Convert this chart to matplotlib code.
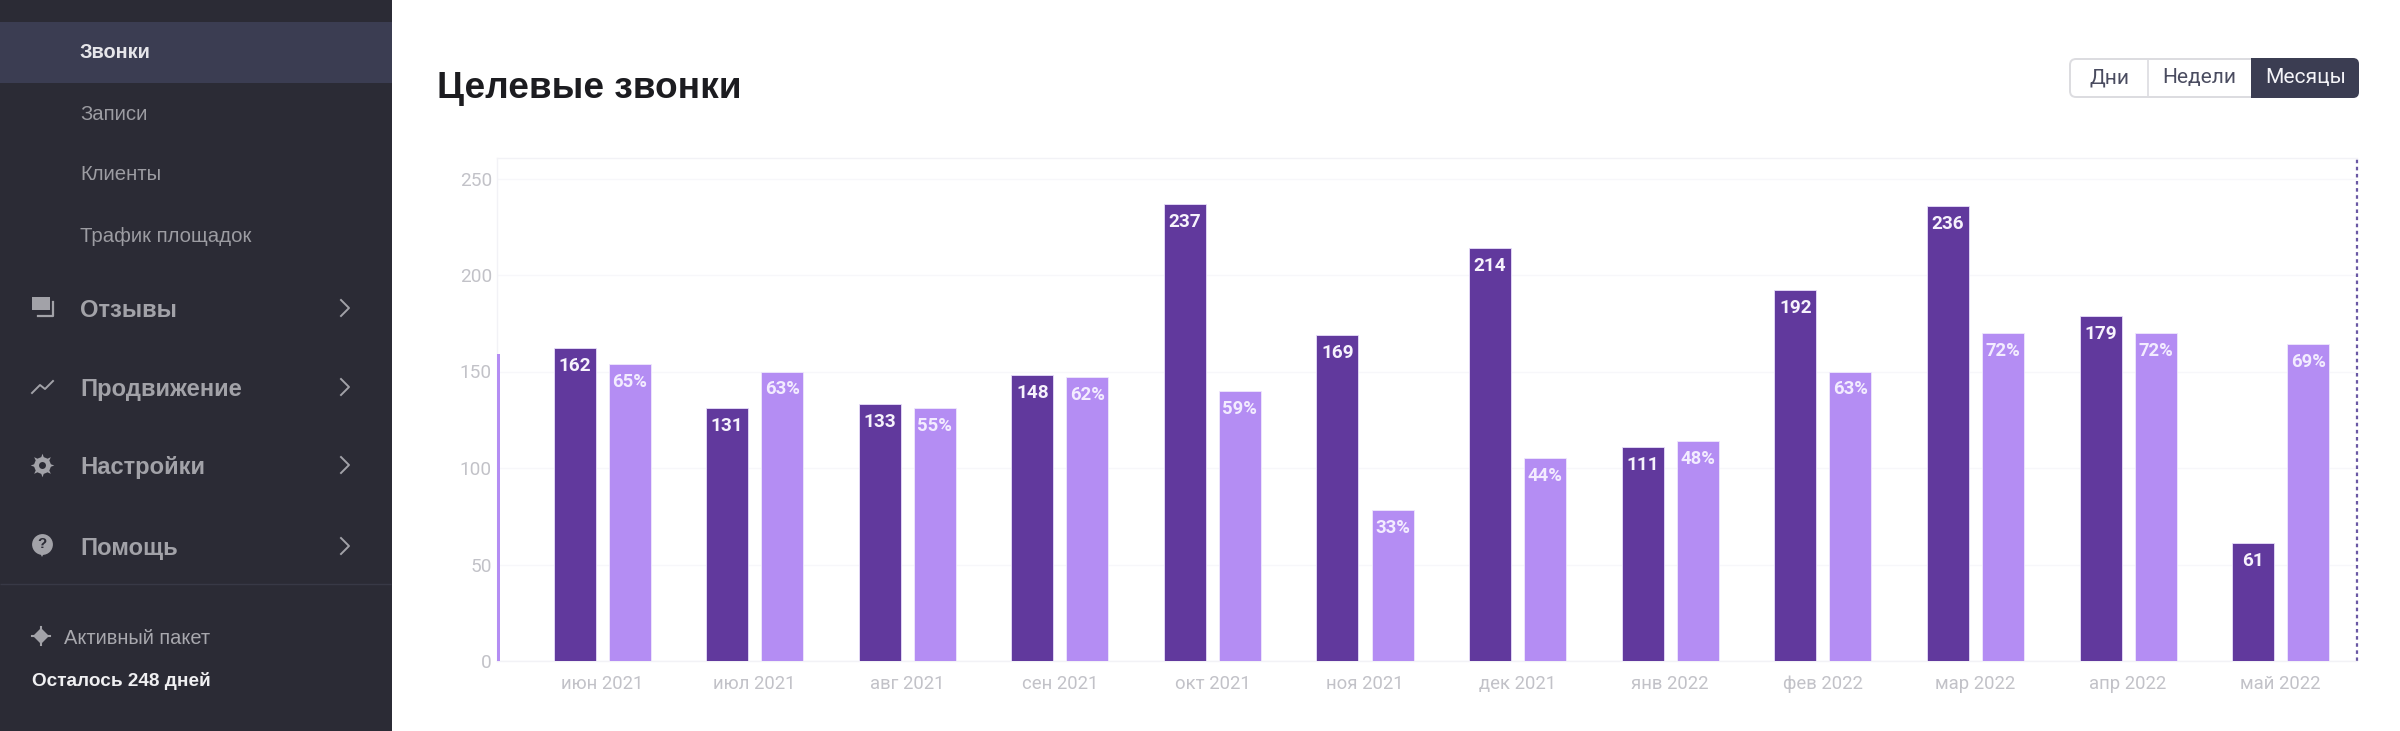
import matplotlib
matplotlib.use("Agg")
import matplotlib.pyplot as plt
from matplotlib.patches import Rectangle, FancyBboxPatch

months = ["июн 2021", "июл 2021", "авг 2021", "сен 2021", "окт 2021", "ноя 2021",
          "дек 2021", "янв 2022", "фев 2022", "мар 2022", "апр 2022", "май 2022"]
calls = [162, 131, 133, 148, 237, 169, 214, 111, 192, 236, 179, 61]
share_height = [154, 150, 131, 147, 140, 78, 105, 114, 150, 170, 170, 164]
share_labels = ["65%", "63%", "55%", "62%", "59%", "33%", "44%", "48%", "63%", "72%", "72%", "69%"]
previous_share_height = 159
y_ticks = [0, 50, 100, 150, 200, 250]
title = "Целевые звонки"
buttons = ["Дни", "Недели", "Месяцы"]

DARK = "#61399d"
LIGHT = "#b48df3"
SIDE = "#2b2b35"
ACTIVE = "#3b3d52"
W, H = 2400, 731
PX = 0.72

plt.rcParams["font.family"] = ["Roboto", "DejaVu Sans"]
fig = plt.figure(figsize=(W / 100, H / 100), dpi=100, facecolor="white")

# interface layer in pixel coordinates
ui = fig.add_axes([0, 0, 1, 1], zorder=0)
ui.set_xlim(0, W)
ui.set_ylim(H, 0)
ui.axis("off")
ui.add_patch(Rectangle((0, 0), 392, H, color=SIDE, lw=0))
ui.add_patch(Rectangle((0, 22), 392, 61, color=ACTIVE, lw=0))
ui.plot([0, 391], [584, 584], color="#383946", lw=1, solid_capstyle="butt")

SANS = ["Liberation Sans", "DejaVu Sans"]
def ui_text(x, y, s, size, color, weight="normal", ha="left", family=None):
    ui.text(x, y, s, fontsize=size * PX, color=color, weight=weight, ha=ha, va="center_baseline",
            family=family or SANS)

ui_text(80, 50, "Звонки", 20, "#e6e6ea", "bold")
for y, s in [(112, "Записи"), (173, "Клиенты"), (234, "Трафик площадок")]:
    ui_text(80, y, s, 20.4, "#9c9ca2")
for y, s in [(308, "Отзывы"), (387, "Продвижение"), (465, "Настройки"), (546, "Помощь")]:
    ui_text(80, y, s, 23.7, "#a2a2a8", "bold")
    ui.plot([341, 349, 341], [y - 8, y, y + 8], color="#a2a2a8", lw=1.4)
ui_text(64, 637, "Активный пакет", 20, "#a8a8ae")
ui_text(32, 679, "Осталось 248 дней", 19, "#f0f0f2", "bold")

# icons
ICON = "#a2a2a8"
ui.add_patch(Rectangle((32, 297), 18, 13, color=ICON, lw=0))
ui.plot([38, 53, 53], [316, 316, 302], color=ICON, lw=1.6)
ui.plot([32, 40, 45, 53], [393, 385, 389, 381], color=ICON, lw=1.4)
ui.plot([42], [465], marker=(8, 1, 0), ms=17, color=ICON, mew=0)
ui.plot([42], [465], marker="o", ms=12, color=ICON, mew=0)
ui.plot([42], [465], marker="o", ms=5, color=SIDE, mew=0)
ui.plot([42], [544], marker="o", ms=15, color=ICON, mew=0)
ui.plot([42], [553], marker="v", ms=6, color=ICON, mew=0)
ui.text(42, 544, "?", fontsize=11, color=SIDE, weight="bold", ha="center", va="center", family=SANS)
ui.plot([41], [636], marker="D", ms=8, color=ICON, mew=0)
ui.plot([32, 50], [636, 636], color=ICON, lw=1.5)
ui.plot([41, 41], [627, 645], color=ICON, lw=1.5)

ui.text(437, 85, title, fontsize=37 * PX, color="#1c1c20", weight="bold", va="center_baseline", family=SANS)

# button group
ui.add_patch(FancyBboxPatch((2070, 59), 288, 38, boxstyle="round,pad=0,rounding_size=6",
                            fc="white", ec="#dcdce0", lw=1.4))
ui.add_patch(FancyBboxPatch((2251, 58), 108, 40, boxstyle="round,pad=0,rounding_size=6",
                            fc=ACTIVE, ec="none", lw=0))
ui.add_patch(Rectangle((2251, 58), 12, 40, color=ACTIVE, lw=0))
ui.plot([2148, 2148], [59, 97], color="#dcdce0", lw=1.2)
for cx, s, c in zip([2109, 2199, 2306], buttons, ["#4a4c60", "#4a4c60", "#f4f4f8"]):
    ui.text(cx, 78, s, fontsize=21 * PX, color=c, ha="center", va="center", family=["Roboto"])

# chart, positioned on the reference plot area
L, R, T, B = 497, 2357, 158, 661
ax = fig.add_axes([L / W, 1 - B / H, (R - L) / W, (B - T) / H], zorder=1)
ax.patch.set_alpha(0)
band = 152.6
ax.set_xlim(-(602 - L) / band, (R - 602) / band)
ax.set_ylim(0, (B - T) / 1.93)
x = list(range(len(months)))
w, off = 42 / band, 27.5 / band
ax.bar([i - off for i in x], calls, width=w, color=DARK, edgecolor="#e8defa", linewidth=0.6, zorder=3)
ax.bar([i + off for i in x], share_height, width=w, color=LIGHT, edgecolor="#efe8fc", linewidth=0.6, zorder=3)
ax.bar([-1 + off + 2 / band], [previous_share_height], width=w, color=LIGHT, zorder=3)

for i, (v, s, l) in enumerate(zip(calls, share_height, share_labels)):
    ax.annotate(str(v), (i - off, v), xytext=(0, -18 * PX), textcoords="offset points", ha="center", va="center",
                color="#f6f2fc", fontsize=19 * PX, weight="bold", zorder=4)
    ax.annotate(l, (i + off, s), xytext=(0, -18 * PX), textcoords="offset points", ha="center", va="center",
                color="#f3ecff", fontsize=18.5 * PX, weight="bold", zorder=4)

ax.set_xticks(x, months)
ax.set_yticks(y_ticks)
ax.tick_params(length=0)
ax.tick_params(axis="x", labelsize=18.5 * PX, labelcolor="#c2c2c8", pad=14 * PX)
ax.tick_params(axis="y", labelsize=19 * PX, labelcolor="#c2c2c8", pad=5 * PX)
ax.grid(axis="y", color="#f7f7fa", lw=1, zorder=0)
ax.set_axisbelow(True)
for side in ["top", "left", "bottom"]:
    ax.spines[side].set_color("#f2f2f6")
    ax.spines[side].set_linewidth(1)
ax.spines["right"].set_visible(False)
ax.axvline(ax.get_xlim()[1], color="#6a58a4", lw=1.6, ls=(0, (1.6, 1.6)), clip_on=False, zorder=2)

fig.savefig("out.png", dpi=100, facecolor="white")
